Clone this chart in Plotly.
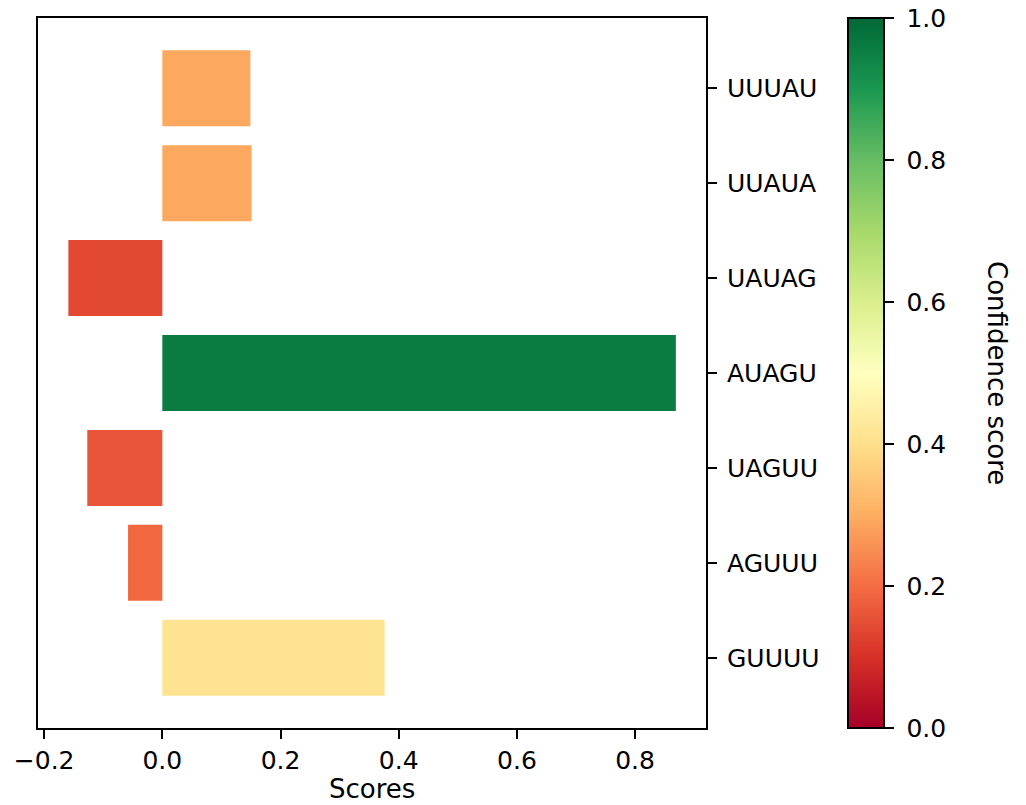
import plotly.graph_objects as go

kmers = ["UUUAU", "UUAUA", "UAUAG", "AUAGU", "UAGUU", "AGUUU", "GUUUU"]
scores = [0.149, 0.151, -0.159, 0.869, -0.127, -0.058, 0.376]
confidence = [0.29, 0.29, 0.14, 0.96, 0.16, 0.19, 0.41]
x_ticks = [-0.2, 0.0, 0.2, 0.4, 0.6, 0.8]
cb_ticks = [0.0, 0.2, 0.4, 0.6, 0.8, 1.0]

FONT = "DejaVu Sans"
FS = 25

fig = go.Figure(go.Bar(
    x=scores,
    y=kmers,
    orientation="h",
    width=0.8,
    marker=dict(
        color=confidence,
        colorscale="RdYlGn",
        cmin=0, cmax=1,
        line=dict(width=0),
        showscale=True,
        colorbar=dict(
            x=1.2126, xanchor="left", xpad=0,
            y=0.5, yanchor="middle", ypad=0,
            len=1, lenmode="fraction",
            thickness=36,
            outlinewidth=2, outlinecolor="black",
            ticks="outside", ticklen=9, tickwidth=2, tickcolor="black",
            tickvals=cb_ticks,
            ticktext=[f" {v:.1f}" for v in cb_ticks],
            tickfont=dict(family=FONT, size=FS, color="black"),
        ),
    ),
))

fig.add_annotation(
    text="Confidence score", textangle=90,
    xref="paper", yref="paper", x=1.4356, y=0.5,
    xanchor="center", yanchor="middle", showarrow=False,
    font=dict(family=FONT, size=26, color="black"),
)
fig.add_annotation(
    text="Scores",
    xref="paper", yref="paper", x=0.5, y=-0.0859,
    xanchor="center", yanchor="middle", showarrow=False,
    font=dict(family=FONT, size=26, color="black"),
)

fig.update_layout(
    width=1026, height=805,
    margin=dict(l=38, r=320, t=18, b=77, autoexpand=False),
    plot_bgcolor="white", paper_bgcolor="white",
    showlegend=False,
    bargap=0.2,
)
fig.update_xaxes(
    range=[-0.2104, 0.920],
    tickvals=x_ticks,
    ticktext=["\u22120.2" if v < 0 else f"{v:.1f}" for v in x_ticks],
    ticks="outside", ticklen=9, tickwidth=2, tickcolor="black",
    showline=True, linecolor="black", linewidth=2, mirror=True,
    showgrid=False, zeroline=False, automargin=False,
    tickfont=dict(family=FONT, size=FS, color="black"),
)
fig.update_yaxes(
    side="right",
    categoryorder="array", categoryarray=kmers,
    range=[6.74, -0.74],
    ticks="outside", ticklen=9, tickwidth=2, tickcolor="black",
    ticklabelstandoff=5,
    showline=True, linecolor="black", linewidth=2, mirror=True,
    showgrid=False, zeroline=False, automargin=False,
    tickfont=dict(family=FONT, size=FS, color="black"),
)

fig.write_html("out.html", config={"displayModeBar": False},
               post_script="document.body.style.margin='0';")
